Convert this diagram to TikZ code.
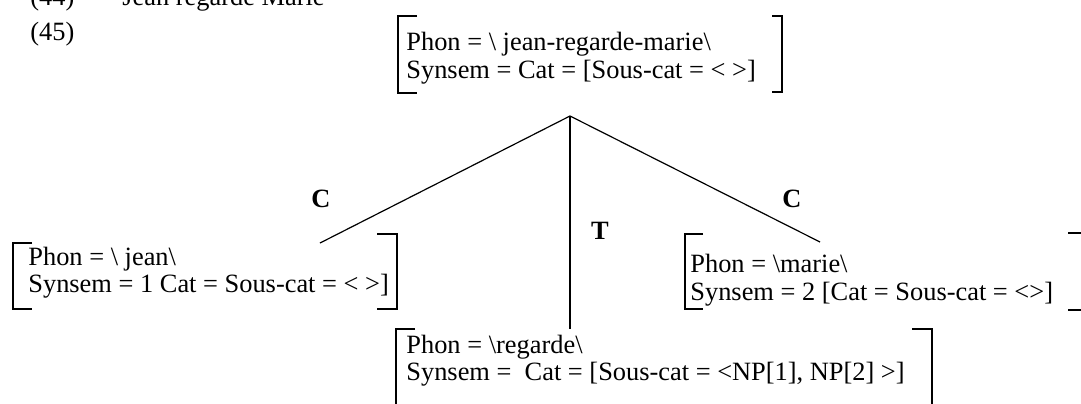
\documentclass[tikz,border=0pt]{standalone}
\usepackage{fontspec}
\setmainfont{Liberation Serif}
\begin{document}
\begin{tikzpicture}[x=0.5pt,y=-0.5pt,
  txt/.style={font=\fontsize{13.2}{15}\selectfont, inner sep=0pt, anchor=base west},
  lab/.style={font=\fontsize{13.2}{15}\selectfont\bfseries, inner sep=0pt},
  brk/.style={line width=0.6pt},
  edge/.style={line width=0.6pt}]
\useasboundingbox (0,0) rectangle (1081,403);
\clip (0,0) rectangle (1081,403);
% header
\node[txt] (n44) at (30,5) {(44)};
\node[txt] (jrm) at (122,5) {Jean regarde Marie};
\node[txt] (n45) at (30,40) {(45)};
% top box
\node[txt] (t1) at (406,50) {Phon = \textbackslash\ jean-regarde-marie\textbackslash};
\node[txt] (t2) at (406,78) {Synsem = Cat = [Sous-cat = < >]};
\draw[brk] (417,16) -- (398,16) -- (398,93) -- (417,93);
\draw[brk] (772,16) -- (782,16) -- (782,92) -- (772,92);
% left box
\node[txt] (l1) at (28,265) {Phon = \textbackslash\ jean\textbackslash};
\node[txt] (l2) at (28,292) {Synsem = 1 Cat = Sous-cat = < >]};
\draw[brk] (32,243) -- (13,243) -- (13,309) -- (32,309);
\draw[brk] (377,234) -- (397,234) -- (397,309) -- (377,309);
% right box
\node[txt] (r1) at (690,272) {Phon = \textbackslash marie\textbackslash};
\node[txt] (r2) at (690,300) {Synsem = 2 [Cat = Sous-cat = <>]};
\draw[brk] (703,234) -- (685,234) -- (685,309) -- (703,309);
\draw[brk] (1068,233) -- (1095,233) -- (1095,310) -- (1068,310);
% bottom box
\node[txt] (b1) at (406,353) {Phon = \textbackslash regarde\textbackslash};
\node[txt] (b2) at (406,380) {Synsem = \ Cat = [Sous-cat = <NP[1], NP[2] >]};
\draw[brk] (415,329) -- (396,329) -- (396,410);
\draw[brk] (912,329) -- (932,329) -- (932,410);
% tree
\coordinate (apex) at (570,116);
\coordinate (lend) at (320,243);
\coordinate (mend) at (570,329);
\coordinate (rend) at (820,242);
\draw[edge] (apex) -- (lend);
\draw[edge] (apex) -- (mend);
\draw[edge] (apex) -- (rend);
\node[lab] (cl) at (321,199) {C};
\node[lab] (tl) at (600,231) {T};
\node[lab] (cr) at (792,199) {C};
\end{tikzpicture}
\end{document}
